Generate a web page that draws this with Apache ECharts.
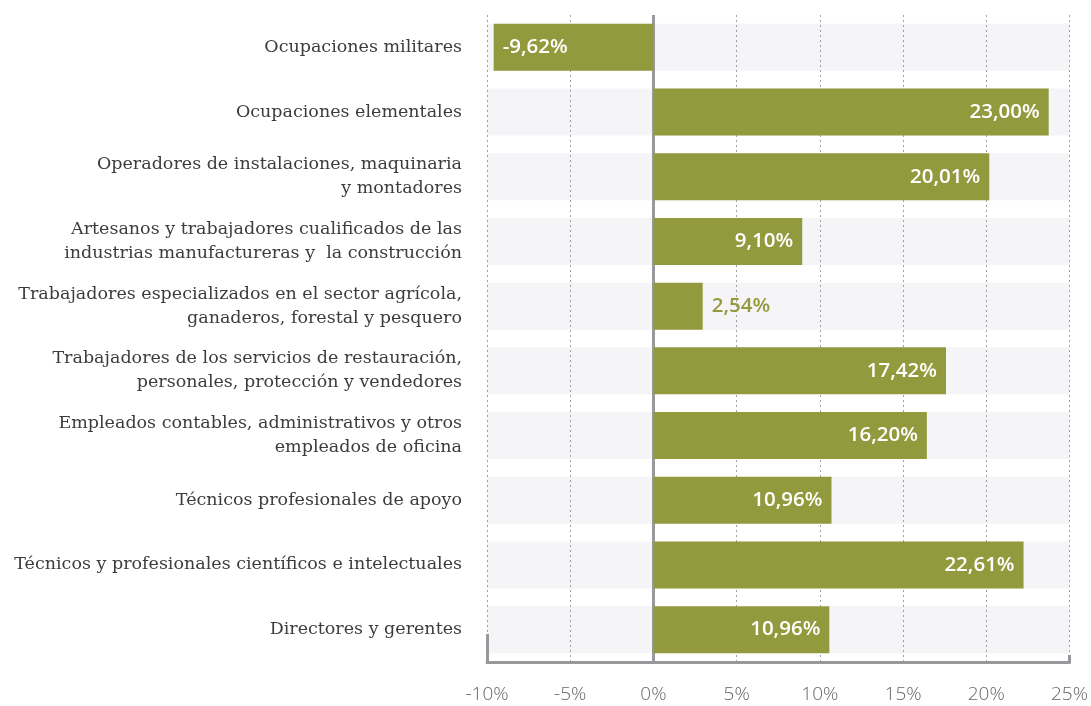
<!DOCTYPE html>
<html>
<head>
<meta charset="utf-8">
<script src="https://cdn.jsdelivr.net/npm/echarts@6/dist/echarts.min.js"></script>
<style>
  html, body { margin: 0; padding: 0; background: #ffffff; }
  #chart { width: 1091px; height: 706px; }
</style>
</head>
<body>
<div id="chart"></div>
<script>
// categories, top to bottom
const categories = [
  'Ocupaciones militares',
  'Ocupaciones elementales',
  'Operadores de instalaciones, maquinaria\ny montadores',
  'Artesanos y trabajadores cualificados de las\nindustrias manufactureras y  la construcción',
  'Trabajadores especializados en el sector agrícola,\nganaderos, forestal y pesquero',
  'Trabajadores de los servicios de restauración,\npersonales, protección y vendedores',
  'Empleados contables, administrativos y otros\nempleados de oficina',
  'Técnicos profesionales de apoyo',
  'Técnicos y profesionales científicos e intelectuales',
  'Directores y gerentes'
]
// bar lengths as drawn (%)
const barValues = [-9.6, 23.75, 20.18, 8.94, 2.96, 17.58, 16.43, 10.7, 22.24, 10.57]
// printed value labels
const valueLabels = ['-9,62%', '23,00%', '20,01%', '9,10%', '2,54%', '17,42%', '16,20%', '10,96%', '22,61%', '10,96%']
// x axis ticks
const xMin = -10
const xMax = 25
const xStep = 5

const GREEN = '#939a3e'
const AXIS_GRAY = '#98979c'

const chart = echarts.init(document.getElementById('chart'))

const barData = barValues.map((v, i) => {
  let label
  if (v < 0) {
    label = { position: 'insideLeft', color: '#ffffff' }
  } else if (v < 5) {
    label = { position: 'right', color: GREEN }
  } else {
    label = { position: 'insideRight', color: '#ffffff' }
  }
  return { value: v, label }
})

// only the end ticks are drawn, each on its own overlay axis
function endTickAxis(value, len) {
  return {
    type: 'value',
    zlevel: 1,
    z: 0,
    min: xMin,
    max: xMax,
    interval: xStep,
    position: 'bottom',
    axisLine: { show: false },
    axisTick: {
      show: true,
      inside: true,
      length: len,
      customValues: [value],
      lineStyle: { color: AXIS_GRAY, width: 3 }
    },
    axisLabel: { show: false },
    splitLine: { show: false }
  }
}

// layers: bands (zlevel 0) < grid lines (zlevel 1, z 0) < bars (zlevel 1, z 3)
chart.setOption({
  animation: false,
  grid: { left: 487, right: 20, top: 15, bottom: 44, containLabel: false },
  xAxis: [
    {
      type: 'value',
      zlevel: 1,
      z: 0,
      min: xMin,
      max: xMax,
      interval: xStep,
      position: 'bottom',
      axisLine: { show: true, lineStyle: { color: AXIS_GRAY, width: 3 } },
      axisTick: { show: false },
      axisLabel: {
        margin: 23,
        fontFamily: 'Open Sans',
        fontWeight: 300,
        fontSize: 19,
        color: '#666666',
        formatter: (v) => `${v}%`
      },
      splitLine: { show: true, lineStyle: { color: '#a0a0a0', width: 1, type: [2, 3] } }
    },
    endTickAxis(xMin, 28),
    endTickAxis(xMax, 7)
  ],
  yAxis: {
    type: 'category',
    data: categories,
    inverse: true,
    axisLine: { show: false },
    axisTick: { show: false },
    axisLabel: {
      margin: 25,
      fontFamily: 'DejaVu Serif',
      fontSize: 17.5,
      lineHeight: 24,
      color: '#3c3c3c',
      align: 'right'
    },
    splitLine: { show: false }
  },
  series: [
    {
      // row bands only (full-width background), under the grid lines
      type: 'bar',
      zlevel: 0,
      z: 1,
      silent: true,
      data: barValues,
      barWidth: 47,
      itemStyle: { color: 'rgba(0,0,0,0)' },
      showBackground: true,
      backgroundStyle: { color: '#f5f4f7' }
    },
    {
      type: 'bar',
      zlevel: 1,
      z: 3,
      data: barData,
      barWidth: 47,
      barGap: '-100%',
      itemStyle: { color: GREEN },
      label: {
        show: true,
        distance: 9,
        fontFamily: 'Open Sans',
        fontWeight: 600,
        fontSize: 20.5,
        formatter: (p) => valueLabels[p.dataIndex]
      },
      markLine: {
        silent: true,
        symbol: 'none',
        label: { show: false },
        lineStyle: { color: AXIS_GRAY, width: 3, type: 'solid' },
        data: [{ xAxis: 0 }]
      }
    }
  ]
})
</script>
</body>
</html>
